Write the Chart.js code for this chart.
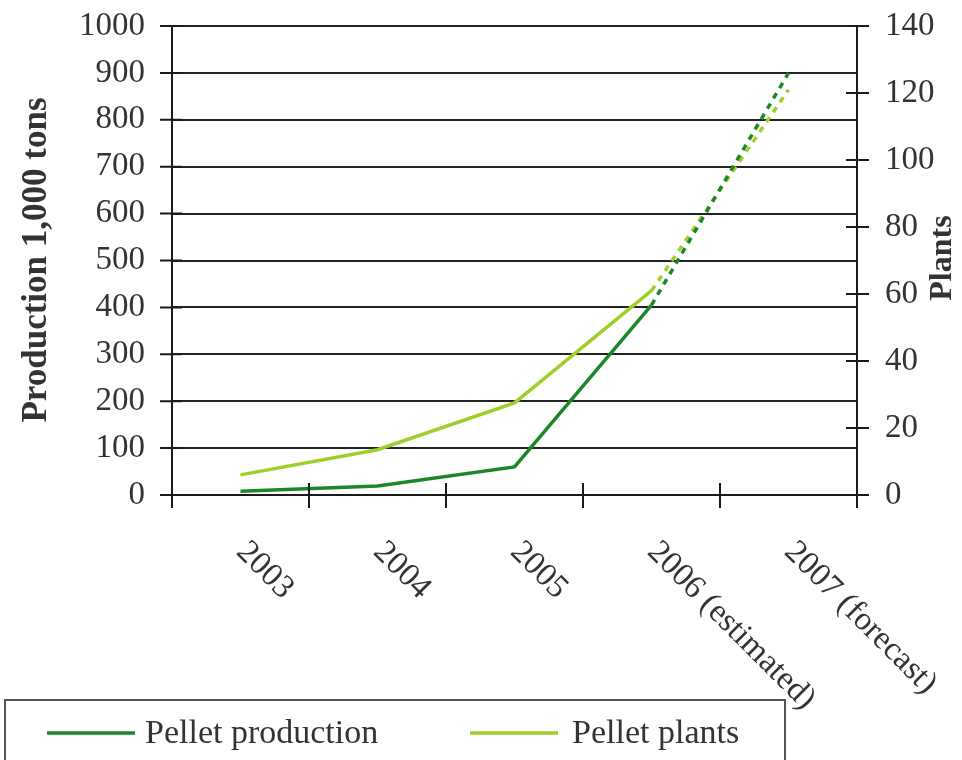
<!DOCTYPE html>
<html>
<head>
<meta charset="utf-8">
<script src="https://cdn.jsdelivr.net/npm/chart.js@4.4.0/dist/chart.umd.min.js"></script>
<style>
html, body { margin: 0; padding: 0; background: #fff; }
#wrap { width: 962px; height: 760px; }
</style>
</head>
<body>
<div id="wrap"><canvas id="chart_canvas"></canvas></div>
<script>
// data
const years = ['2003', '2004', '2005', '2006 (estimated)', '2007 (forecast)'];
const production = [8, 19, 60, 405, 900];     // 1,000 tons
const plants = [6, 13.5, 27.5, 61, 121];       // number of plants
const prodMax = 1000, prodStep = 100;
const plantsMax = 140, plantsStep = 20;

const darkGreen = '#1c8729';
const lightGreen = '#9fcf2c';
const ink = '#333';
const serif = '"Liberation Serif", "DejaVu Serif", serif';

// last segment is an estimate/forecast -> dashed
const dashLast = ctx => ctx.p1DataIndex === years.length - 1 ? [6, 6] : undefined;

const extras = {
    id: 'extras',
    afterDraw(chart) {
        const ctx = chart.ctx;
        const area = chart.chartArea;
        const xs = chart.scales.x, yl = chart.scales.y, yr = chart.scales.y1;
        const half = (xs.getPixelForValue(1) - xs.getPixelForValue(0)) / 2;
        ctx.save();
        ctx.strokeStyle = '#1a1a1a';
        ctx.lineWidth = 2;

        // axis lines (running a little past the bottom)
        ctx.beginPath();
        ctx.moveTo(area.left, area.top); ctx.lineTo(area.left, area.bottom + 13);
        ctx.moveTo(area.right, area.top); ctx.lineTo(area.right, area.bottom + 13);
        ctx.moveTo(area.left, area.bottom); ctx.lineTo(area.right, area.bottom);
        // crossing tick marks
        for (let i = 0; i < years.length; i++) {
            const x = xs.getPixelForValue(i) + half;
            ctx.moveTo(x, area.bottom - 12); ctx.lineTo(x, area.bottom + 13);
        }
        for (const t of yl.ticks) {
            const y = yl.getPixelForValue(t.value);
            ctx.moveTo(area.left - 12, y); ctx.lineTo(area.left + 10, y);
        }
        for (const t of yr.ticks) {
            const y = yr.getPixelForValue(t.value);
            ctx.moveTo(area.right - 11, y); ctx.lineTo(area.right + 12, y);
        }
        ctx.stroke();

        // rotated category labels
        ctx.fillStyle = ink;
        ctx.font = '33px ' + serif;
        ctx.textAlign = 'left';
        ctx.textBaseline = 'middle';
        years.forEach((lab, i) => {
            ctx.save();
            ctx.translate(xs.getPixelForValue(i) + 1, area.bottom + 52);
            ctx.rotate(Math.PI / 4);
            ctx.fillText(lab, 0, 0);
            ctx.restore();
        });

        // axis titles
        ctx.font = 'bold 35px ' + serif;
        ctx.textAlign = 'center';
        ctx.save();
        ctx.translate(37, 260);
        ctx.rotate(-Math.PI / 2);
        ctx.fillText('Production 1,000 tons', 0, 0);
        ctx.restore();
        ctx.font = 'bold 32px ' + serif;
        ctx.save();
        ctx.translate(943, 258);
        ctx.rotate(-Math.PI / 2);
        ctx.fillText('Plants', 0, 0);
        ctx.restore();

        // legend box
        ctx.strokeStyle = '#555';
        ctx.lineWidth = 2;
        ctx.strokeRect(5, 700, 780, 80);
        const items = [[47, 145], [470, 572]];
        ctx.font = '34px ' + serif;
        ctx.textAlign = 'left';
        chart.data.datasets.forEach((ds, i) => {
            const [lx, tx] = items[i];
            ctx.strokeStyle = ds.borderColor;
            ctx.lineWidth = 3.5;
            ctx.beginPath();
            ctx.moveTo(lx, 733); ctx.lineTo(lx + 88, 733);
            ctx.stroke();
            ctx.fillStyle = ink;
            ctx.fillText(ds.label, tx, 734);
        });
        ctx.restore();
    }
};

function fixY(width) {
    return s => {
        s.width = width;
        s.paddingTop = 0;
        s.paddingBottom = 0;
    };
}

var ctx = document.getElementById('chart_canvas').getContext('2d');
var myChart = new Chart(ctx, {
    type: 'line',
    data: {
        labels: years,
        datasets: [
            {
                label: 'Pellet production',
                data: production,
                yAxisID: 'y',
                borderColor: darkGreen,
                borderWidth: 3.5,
                pointRadius: 0,
                tension: 0,
                segment: { borderDash: dashLast }
            },
            {
                label: 'Pellet plants',
                data: plants,
                yAxisID: 'y1',
                borderColor: lightGreen,
                borderWidth: 3.5,
                pointRadius: 0,
                tension: 0,
                segment: { borderDash: dashLast }
            }
        ]
    },
    options: {
        responsive: true,
        maintainAspectRatio: false,
        animation: false,
        layout: { padding: { top: 26, left: 0, right: 0, bottom: 0 } },
        plugins: { legend: { display: false }, tooltip: { enabled: false } },
        scales: {
            x: {
                offset: true,
                grid: { display: false, drawTicks: false },
                border: { display: false },
                ticks: { display: false },
                afterFit: s => { s.height = 265; }
            },
            y: {
                position: 'left',
                min: 0, max: prodMax,
                ticks: {
                    stepSize: prodStep,
                    padding: 27,
                    color: ink,
                    font: { family: serif, size: 33 },
                    callback: v => String(v)
                },
                grid: { color: '#222', lineWidth: 2, drawTicks: false },
                border: { display: false },
                afterFit: fixY(172)
            },
            y1: {
                position: 'right',
                min: 0, max: plantsMax,
                ticks: {
                    stepSize: plantsStep,
                    padding: 28,
                    color: ink,
                    font: { family: serif, size: 33 }
                },
                grid: { drawOnChartArea: false, drawTicks: false },
                border: { display: false },
                afterFit: fixY(105)
            }
        }
    },
    plugins: [extras]
});
</script>
</body>
</html>
